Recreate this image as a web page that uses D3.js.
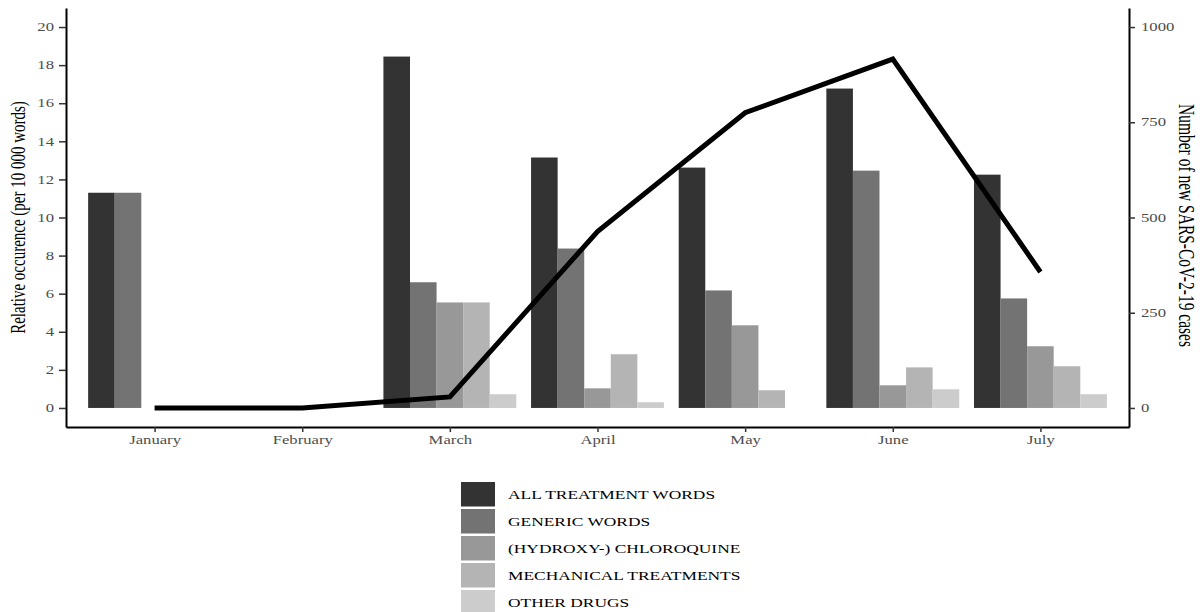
<!DOCTYPE html>
<html>
<head>
<meta charset="utf-8">
<script src="https://cdn.jsdelivr.net/npm/d3@7"></script>
<style>
  body { margin: 0; background: #fff; }
  text { font-family: "Liberation Serif", "Times New Roman", serif; }
</style>
</head>
<body>
<svg width="1200" height="612"></svg>
<script>
//****************************** data *****************************//
var months = ["January","February","March","April","May","June","July"];
var seriesNames = ["ALL TREATMENT WORDS","GENERIC WORDS","(HYDROXY-) CHLOROQUINE","MECHANICAL TREATMENTS","OTHER DRUGS"];
var allWords    = [11.3, null, 18.45, 13.15, 12.62, 16.77, 12.25];
var generic     = [11.3, null, 6.6, 8.37, 6.17, 12.46, 5.75];
var chloroquine = [null, null, 5.54, 1.03, 4.34, 1.19, 3.24];
var mechanical  = [null, null, 5.54, 2.82, 0.93, 2.13, 2.19];
var otherDrugs  = [null, null, 0.72, 0.3, null, 0.98, 0.72];
var cases       = [0, 0, 29, 463, 775, 916, 357];
var leftTicks  = [0,2,4,6,8,10,12,14,16,18,20];
var rightTicks = [0,250,500,750,1000];
var greys = ["#333333","#737373","#989898","#B4B4B4","#CCCCCC"];

var seriesValues = [allWords, generic, chloroquine, mechanical, otherDrugs];
var bars = [];
seriesValues.forEach(function(vals, s) {
  vals.forEach(function(v, m) {
    if (v != null) { bars.push({month: months[m], series: seriesNames[s], value: v}); }
  });
});

//****************************** chart *****************************//
var stretch = 1.45;   // text in the picture is wide
var svg = d3.select("svg");

var panel = {left: 66, right: 1129, top: 8, bottom: 427};

var xScale = d3.scalePoint()
  .domain(months)
  .range([panel.left, panel.right])
  .padding(0.6);
var step = xScale.step();
var inner = d3.scaleBand()
  .domain(seriesNames)
  .range([-0.45 * step, 0.45 * step]);
var yScale = d3.scaleLinear()
  .domain([-1, 21])
  .range([panel.bottom, panel.top]);
var y2Scale = d3.scaleLinear()
  .domain([-50, 1050])
  .range([panel.bottom, panel.top]);
var color = d3.scaleOrdinal().domain(seriesNames).range(greys);

svg.append("g")
  .selectAll("rect")
  .data(bars)
  .enter()
  .append("rect")
  .attr("x", function(d) { return xScale(d.month) + inner(d.series); })
  .attr("y", function(d) { return yScale(d.value); })
  .attr("width", inner.bandwidth())
  .attr("height", function(d) { return yScale(0) - yScale(d.value); })
  .attr("fill", function(d) { return color(d.series); });

var line = d3.line()
  .x(function(d, i) { return xScale(months[i]); })
  .y(function(d) { return y2Scale(d); });
svg.append("path")
  .datum(cases)
  .attr("d", line)
  .attr("fill", "none")
  .attr("stroke", "#000")
  .attr("stroke-width", 5);

// axes
function styleAxis(g, dx) {
  g.select(".domain").attr("stroke", "#000").attr("stroke-width", 2);
  g.selectAll(".tick line").attr("stroke", "#333").attr("stroke-width", 1.5);
  g.selectAll(".tick text")
    .attr("fill", "#4d4d4d")
    .style("font-size", "11.5px")
    .style("font-family", "Liberation Serif")
    .attr("transform", "scale(" + stretch + ",1)");
  if (dx != null) {
    g.selectAll(".tick text").attr("x", dx / stretch);
  }
}

var yAxis = d3.axisLeft(yScale).tickValues(leftTicks).tickSize(7).tickSizeOuter(0).tickPadding(4);
var gy = svg.append("g")
  .attr("transform", "translate(" + panel.left + ",0)")
  .call(yAxis);
styleAxis(gy, -12);

var y2Axis = d3.axisRight(y2Scale).tickValues(rightTicks).tickFormat(d3.format("d"))
  .tickSize(6).tickSizeOuter(0).tickPadding(6);
var gy2 = svg.append("g")
  .attr("transform", "translate(" + panel.right + ",0)")
  .call(y2Axis);
styleAxis(gy2, 12);

var xAxis = d3.axisBottom(xScale).tickSize(5).tickSizeOuter(0).tickPadding(4);
var gx = svg.append("g")
  .attr("transform", "translate(0," + panel.bottom + ")")
  .call(xAxis);
styleAxis(gx, null);

// axis titles
var midY = (panel.top + panel.bottom) / 2;
svg.append("text")
  .attr("transform", "translate(25," + midY + ") scale(" + stretch + ",1) rotate(-90)")
  .attr("text-anchor", "middle")
  .style("font-size", "15px")
  .attr("fill", "#000")
  .text("Relative occurence (per 10 000 words)");
svg.append("text")
  .attr("transform", "translate(1179," + (midY + 8) + ") scale(" + stretch + ",1) rotate(90)")
  .attr("text-anchor", "middle")
  .style("font-size", "15.5px")
  .attr("fill", "#000")
  .text("Number of new SARS-CoV-2-19 cases");

// legend
var legend = svg.append("g")
  .attr("transform", "translate(461,482)");
var legendLines = legend.selectAll("g")
  .data(seriesNames)
  .enter()
  .append("g")
  .attr("transform", function(d, i) { return "translate(0," + (i * 27) + ")"; });
legendLines.append("rect")
  .attr("width", 34)
  .attr("height", 24.5)
  .attr("fill", function(d) { return color(d); });
legendLines.append("text")
  .attr("transform", "translate(47,12.5) scale(" + stretch + ",1)")
  .attr("dy", "0.35em")
  .style("font-size", "12px")
  .attr("fill", "#000")
  .text(function(d) { return d; });
</script>
</body>
</html>
